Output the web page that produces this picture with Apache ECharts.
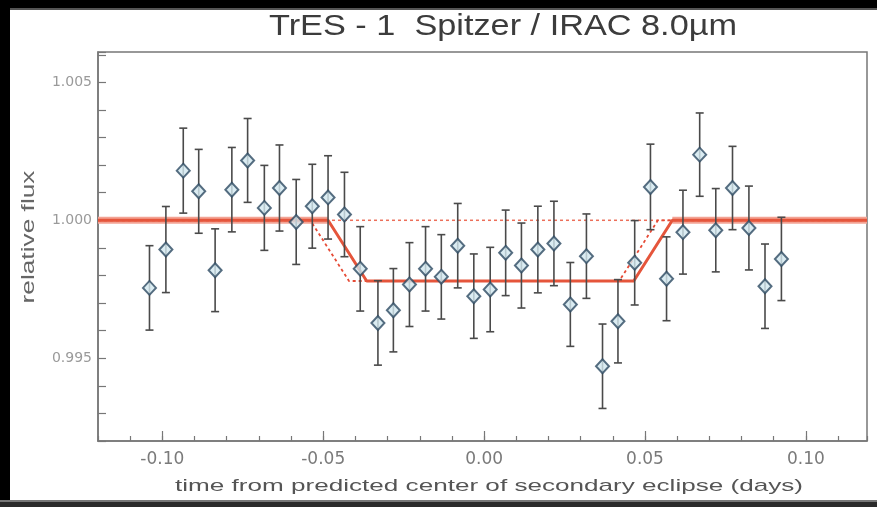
<!DOCTYPE html>
<html>
<head>
<meta charset="utf-8">
<title>TrES-1 Spitzer / IRAC 8.0µm secondary eclipse</title>
<script src="https://cdn.jsdelivr.net/npm/echarts@6/dist/echarts.min.js"></script>
<style>
  html, body { margin: 0; padding: 0; background: #fff; overflow: hidden; }
  #chart { width: 877px; height: 507px; }
</style>
</head>
<body>
<div id="chart"></div>
<script>
// Binned light curve: time from predicted center of secondary eclipse (days)
const times = [
  -0.1040, -0.0989, -0.0935, -0.0887, -0.0836, -0.0784, -0.0735, -0.0683,
  -0.0636, -0.0584, -0.0534, -0.0485, -0.0434, -0.0385, -0.0330, -0.0282,
  -0.0232, -0.0182, -0.0133, -0.0082, -0.0032,  0.0019,  0.0067,  0.0116,
   0.0167,  0.0217,  0.0268,  0.0318,  0.0368,  0.0416,  0.0468,  0.0517,
   0.0567,  0.0618,  0.0670,  0.0720,  0.0772,  0.0823,  0.0873,  0.0924
];
// Relative flux of each bin
const flux = [
  0.99755, 0.99894, 1.00180, 1.00105, 0.99819, 1.00111, 1.00217, 1.00045,
  1.00117, 0.99994, 1.00051, 1.00083, 1.00021, 0.99824, 0.99628, 0.99674,
  0.99767, 0.99824, 0.99795, 0.99908, 0.99725, 0.99749, 0.99882, 0.99836,
  0.99894, 0.99916, 0.99695, 0.99870, 0.99471, 0.99634, 0.99846, 1.00121,
  0.99788, 0.99957, 1.00238, 0.99964, 1.00117, 0.99972, 0.99761, 0.99860
];
// 1-sigma uncertainty of each bin
const fluxErr = [
  0.00153, 0.00156, 0.00154, 0.00152, 0.00150, 0.00153, 0.00152, 0.00154,
  0.00156, 0.00154, 0.00152, 0.00151, 0.00153, 0.00153, 0.00153, 0.00151,
  0.00152, 0.00153, 0.00153, 0.00153, 0.00153, 0.00153, 0.00155, 0.00154,
  0.00157, 0.00153, 0.00152, 0.00153, 0.00153, 0.00151, 0.00153, 0.00155,
  0.00152, 0.00152, 0.00151, 0.00151, 0.00151, 0.00152, 0.00153, 0.00151
];

// Best-fit eclipse model (solid)
const fitTimes = [-0.120, -0.0485, -0.0365, 0.0465, 0.0585, 0.119];
const fitFlux  = [1.0000, 1.0000, 0.9978, 0.9978, 1.0000, 1.0000];
// Eclipse model at the predicted time (dotted)
const predTimes = [-0.120, -0.0540, -0.0420, 0.0420, 0.0540, 0.119];
const predFlux  = [1.0000, 1.0000, 0.9978, 0.9978, 1.0000, 1.0000];
// Unit-flux reference level
const baseTimes = [-0.120, 0.119];
const baseFlux  = [1.0000, 1.0000];

// Axis tick labels
const xTickLabels = [-0.10, -0.05, 0.00, 0.05, 0.10];
const yTickLabels = [0.995, 1.000, 1.005];

const titleText = 'TrES - 1  Spitzer / IRAC 8.0µm';
const xName = 'time from predicted center of secondary eclipse (days)';
const yName = 'relative flux';

const zip = (a, b) => a.map((v, i) => [v, b[i]]);
const points = zip(times, flux);
const bars = times.map((t, i) => [t, flux[i] - fluxErr[i], flux[i] + fluxErr[i]]);
const fitLine = zip(fitTimes, fitFlux);
const predLine = zip(predTimes, predFlux);
const baseLine = zip(baseTimes, baseFlux);
// out-of-eclipse parts of the fit, drawn with a broader pale band
const fitOutLeft = fitLine.slice(0, 2);
const fitOutRight = fitLine.slice(-2);

// horizontal stretch so a text spans a given width
const ctx = document.createElement('canvas').getContext('2d');
function stretch(text, font, width) {
  ctx.font = font;
  return width / ctx.measureText(text).width;
}

const titleFont = '30px "Liberation Sans", Arial, sans-serif';
const xNameFont = '17px "Liberation Sans", Arial, sans-serif';
const yNameFont = '18px "Liberation Sans", Arial, sans-serif';

const chart = echarts.init(document.getElementById('chart'), null, { renderer: 'canvas' });

const isLabelTick = (v, list) => list.some(l => Math.abs(l - v) < 1e-7);

chart.setOption({
  backgroundColor: '#ffffff',
  animation: false,
  grid: {
    left: 98, right: 10, top: 52, bottom: 66,
    show: true, borderColor: '#777', borderWidth: 1.5,
    backgroundColor: '#fff'
  },
  xAxis: [
    {
      type: 'value', min: -0.12, max: 0.119, interval: 0.01,
      axisLine: { show: true, onZero: false, lineStyle: { color: '#777', width: 1.5 } },
      axisTick: { show: true, inside: true, length: 5, lineStyle: { color: '#777', width: 1.2 } },
      axisLabel: { show: false },
      splitLine: { show: false }
    },
    {
      type: 'value', min: -0.12, max: 0.119, position: 'bottom',
      axisLine: { show: false, onZero: false },
      axisTick: {
        show: true, inside: true, length: 10,
        customValues: xTickLabels,
        lineStyle: { color: '#777', width: 1.2 }
      },
      axisLabel: {
        show: true, customValues: xTickLabels,
        formatter: v => v.toFixed(2),
        color: '#7a7a7a', fontSize: 17, margin: 10,
        fontFamily: '"DejaVu Sans", sans-serif'
      },
      splitLine: { show: false }
    }
  ],
  yAxis: {
    type: 'value', min: 0.992, max: 1.0061, interval: 0.001,
    axisLine: { show: true, onZero: false, lineStyle: { color: '#777', width: 1.5 } },
    axisTick: { show: true, inside: true, length: 8, lineStyle: { color: '#777', width: 1.2 } },
    axisLabel: {
      color: '#9a9a9a', fontSize: 14, margin: 6,
      fontFamily: '"DejaVu Sans", sans-serif',
      formatter: v => isLabelTick(v, yTickLabels) ? v.toFixed(3) : ''
    },
    splitLine: { show: false }
  },
  series: [
    {
      name: 'fit-band-left', type: 'line', data: fitOutLeft, xAxisIndex: 0,
      symbol: 'none', silent: true,
      lineStyle: { color: '#f3a394', width: 7 }, z: 1
    },
    {
      name: 'fit-band-right', type: 'line', data: fitOutRight, xAxisIndex: 0,
      symbol: 'none', silent: true,
      lineStyle: { color: '#f3a394', width: 7 }, z: 1
    },
    {
      name: 'unit flux', type: 'line', data: baseLine, xAxisIndex: 0,
      symbol: 'none', silent: true,
      lineStyle: { color: '#ec6f5a', width: 1.5, type: [3, 3] }, z: 2
    },
    {
      name: 'predicted', type: 'line', data: predLine, xAxisIndex: 0,
      symbol: 'none', silent: true,
      lineStyle: { color: '#e64a35', width: 1.8, type: [3, 3] }, z: 2
    },
    {
      name: 'best fit', type: 'line', data: fitLine, xAxisIndex: 0,
      symbol: 'none', silent: true,
      lineStyle: { color: '#e5553b', width: 3 }, z: 3
    },
    {
      name: 'errors', type: 'custom', xAxisIndex: 0, data: bars, z: 4,
      renderItem: (params, api) => {
        const x = api.value(0);
        const top = api.coord([x, api.value(2)]);
        const bot = api.coord([x, api.value(1)]);
        const cap = 4;
        const style = { stroke: '#4a4a4a', lineWidth: 1.6 };
        return {
          type: 'group',
          children: [
            { type: 'line', shape: { x1: top[0], y1: top[1], x2: bot[0], y2: bot[1] }, style },
            { type: 'line', shape: { x1: top[0] - cap, y1: top[1], x2: top[0] + cap, y2: top[1] }, style },
            { type: 'line', shape: { x1: bot[0] - cap, y1: bot[1], x2: bot[0] + cap, y2: bot[1] }, style }
          ]
        };
      }
    },
    {
      name: 'flux', type: 'scatter', xAxisIndex: 0, data: points, z: 5,
      symbol: 'diamond', symbolSize: [13, 14],
      itemStyle: { color: '#d2e7ef', borderColor: '#2d4a62', borderWidth: 2 }
    }
  ],
  graphic: [
    // dark frame around the figure
    { type: 'rect', shape: { x: 0, y: 0, width: 877, height: 8 }, style: { fill: '#000' }, z: 100 },
    { type: 'rect', shape: { x: 0, y: 8, width: 877, height: 2 }, style: { fill: '#555' }, z: 100 },
    { type: 'rect', shape: { x: 0, y: 0, width: 10, height: 507 }, style: { fill: '#000' }, z: 100 },
    { type: 'rect', shape: { x: 0, y: 500, width: 877, height: 2 }, style: { fill: '#777' }, z: 100 },
    { type: 'rect', shape: { x: 0, y: 502, width: 877, height: 5 }, style: { fill: '#2a2a2a' }, z: 100 },
    {
      type: 'text', x: 503, y: 27, scaleX: stretch(titleText, titleFont, 468),
      style: { text: titleText, font: titleFont, fill: '#3c3c3c', align: 'center', verticalAlign: 'middle' }
    },
    {
      type: 'text', x: 489, y: 486, scaleX: stretch(xName, xNameFont, 628),
      style: { text: xName, font: xNameFont, fill: '#555', align: 'center', verticalAlign: 'middle' }
    },
    {
      type: 'text', x: 29, y: 237, rotation: Math.PI / 2, scaleX: stretch(yName, yNameFont, 133),
      style: { text: yName, font: yNameFont, fill: '#666', align: 'center', verticalAlign: 'middle' }
    }
  ]
});
</script>
</body>
</html>
